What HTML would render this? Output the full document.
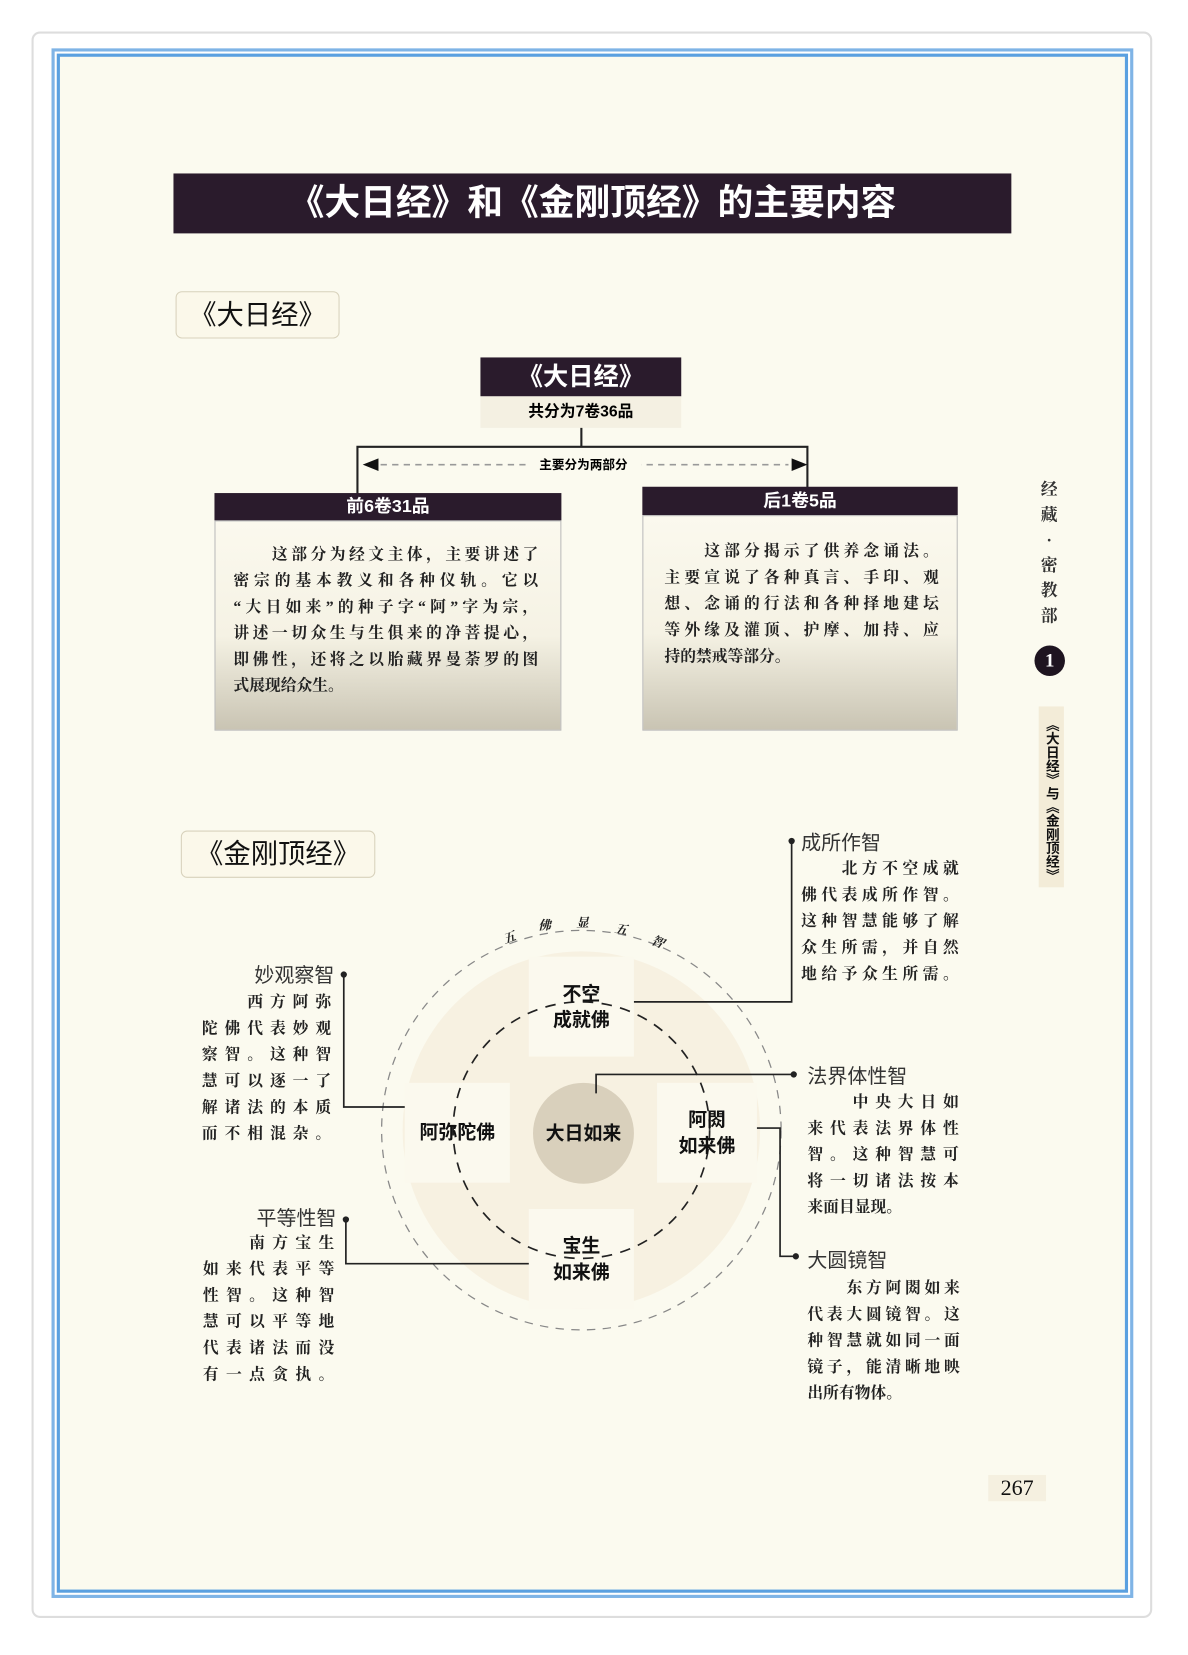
<!DOCTYPE html>
<html><head><meta charset="utf-8"><style>
html,body{margin:0;padding:0;background:#fff;}
body{width:1188px;height:1655px;overflow:hidden;position:relative;font-family:"Liberation Sans","Noto Sans CJK SC",sans-serif;}
#w{position:absolute;left:0;top:0;width:1130px;height:1574px;transform:scale(1.0513);transform-origin:0 0;}
.a{position:absolute;}
.card{left:30px;top:30px;width:1066px;height:1509px;border:2px solid #ddd;border-radius:8px;background:#fff;box-sizing:border-box;}
.blue{left:49px;top:46px;width:1029px;height:1474px;border:3px solid #7fb4e6;box-sizing:border-box;}
.blue2{left:54px;top:51px;width:1019px;height:1464px;border:3px solid #5aa0e0;box-sizing:border-box;background:#fbfaef;}
.dark{background:#2a1b2c;color:#fff;font-weight:bold;text-align:center;}
.p{font-family:"Liberation Serif","Noto Serif CJK SC",serif;color:#222;font-weight:bold;}
.ln{text-align:justify;text-align-last:justify;white-space:nowrap;}
.node{background:#fefdf8;text-align:center;font-weight:bold;font-size:18px;color:#111;line-height:25px;display:flex;align-items:center;justify-content:center;}
.lbl{font-size:19px;color:#333;}
</style></head><body><div id="w">
<div class="a card"></div>
<div class="a blue"></div>
<div class="a blue2"></div>

<div class="a dark" style="left:165px;top:165px;width:797px;height:57px;line-height:57px;font-size:34px;">《大日经》和《金刚顶经》的主要内容</div>

<div class="a" style="left:167px;top:277px;width:154px;height:43px;border:1px solid #d8d2bc;border-radius:6px;background:#fbf8ea;font-size:26px;line-height:43px;text-align:center;color:#111;">《大日经》</div>

<div class="a dark" style="left:457px;top:340px;width:191px;height:37px;line-height:37px;font-size:24px;">《大日经》</div>
<div class="a" style="left:457px;top:377px;width:191px;height:30px;line-height:30px;font-size:15px;font-weight:bold;text-align:center;background:#f4f0e2;">共分为7卷36品</div>

<svg class="a" style="left:0;top:0" width="1130" height="1574">
<g stroke="#222" stroke-width="2" fill="none">
<path d="M553 407V425M340 470V425H768V465"/>
</g>
<path d="M362 442H750" stroke="#999" stroke-width="1.5" stroke-dasharray="6 5"/>
<polygon points="345,442 360,436 360,448" fill="#111"/>
<polygon points="768,442 753,436 753,448" fill="#111"/>
<g fill="#f5ecdc" opacity="0.7">
<circle cx="553" cy="1075" r="170"/>
</g>
<g fill="#fbf9ee">
<rect x="503" y="910" width="100" height="95"/>
<rect x="385" y="1030" width="100" height="95"/>
<rect x="625" y="1030" width="95" height="95"/>
<rect x="503" y="1150" width="100" height="95"/>
</g>
<circle cx="553" cy="1075" r="190" fill="none" stroke="#888" stroke-width="1.2" stroke-dasharray="8 7"/>
<circle cx="553" cy="1075" r="122" fill="none" stroke="#222" stroke-width="1.6" stroke-dasharray="10 8"/>
<circle cx="555" cy="1078" r="48" fill="#d9d0bc"/>
<g stroke="#222" stroke-width="1.6" fill="none">
<path d="M603 953H753V800"/>
<path d="M567 1040V1022H755"/>
<path d="M720 1073H742V1195H755"/>
<path d="M385 1053H327V927"/>
<path d="M503 1202H329V1160"/>
</g>
<g fill="#222"><circle cx="753" cy="800" r="3"/><circle cx="755" cy="1022" r="3"/><circle cx="757" cy="1195" r="3"/><circle cx="327" cy="927" r="3"/><circle cx="329" cy="1160" r="3"/></g>
<g font-family="Liberation Serif,Noto Serif CJK SC,serif" font-size="12" font-weight="bold" fill="#222" font-style="italic">
<text x="478" y="896" transform="rotate(-20 484 891)">五</text>
<text x="512" y="884">佛</text>
<text x="548" y="882">显</text>
<text x="585" y="888" transform="rotate(10 591 883)">五</text>
<text x="620" y="900" transform="rotate(22 626 895)">智</text>
</g>
</svg>

<div class="a" style="left:500px;top:433px;width:110px;text-align:center;font-size:12px;font-weight:bold;background:#fbfaef;">主要分为两部分</div>

<div class="a dark" style="left:204px;top:469px;width:330px;height:26px;line-height:26px;font-size:17px;">前6卷31品</div>
<div class="a" style="left:204px;top:495px;width:330px;height:200px;background:linear-gradient(#fbf9ee 0%,#f5f2e4 55%,#c9c4b3 100%);border:1px solid #bbb;box-sizing:border-box;"></div>
<div class="a p" style="left:222px;top:516px;width:290px;font-size:15px;line-height:25px;">
<div class="ln">　　这部分为经文主体，主要讲述了</div>
<div class="ln">密宗的基本教义和各种仪轨。它以</div>
<div class="ln">“大日如来”的种子字“阿”字为宗，</div>
<div class="ln">讲述一切众生与生俱来的净菩提心，</div>
<div class="ln">即佛性，还将之以胎藏界曼荼罗的图</div>
<div>式展现给众生。</div>
</div>

<div class="a dark" style="left:611px;top:463px;width:300px;height:27px;line-height:27px;font-size:17px;">后1卷5品</div>
<div class="a" style="left:611px;top:490px;width:300px;height:205px;background:linear-gradient(#fbf9ee 0%,#f5f2e4 55%,#c9c4b3 100%);border:1px solid #bbb;box-sizing:border-box;"></div>
<div class="a p" style="left:632px;top:513px;width:261px;font-size:15px;line-height:25px;">
<div class="ln">　　这部分揭示了供养念诵法。</div>
<div class="ln">主要宣说了各种真言、手印、观</div>
<div class="ln">想、念诵的行法和各种择地建坛</div>
<div class="ln">等外缘及灌顶、护摩、加持、应</div>
<div>持的禁戒等部分。</div>
</div>

<div class="a p" style="left:987px;top:455px;width:22px;font-size:16px;line-height:24px;text-align:center;color:#333;">经<br>藏<br>·<br>密<br>教<br>部</div>
<div class="a" style="left:984px;top:614px;width:29px;height:29px;border-radius:50%;background:#1e1420;color:#fff;text-align:center;line-height:29px;font-family:'Liberation Serif',serif;font-weight:bold;font-size:18px;">1</div>
<div class="a" style="left:988px;top:672px;width:24px;height:172px;background:#f3ecd8;"></div>
<div class="a" style="left:988px;top:678px;width:24px;height:166px;writing-mode:vertical-rl;font-size:13px;font-weight:bold;line-height:24px;text-align:center;color:#111;white-space:nowrap;">《大日经》与《金刚顶经》</div>

<div class="a" style="left:172px;top:790px;width:183px;height:43px;border:1px solid #d8d2bc;border-radius:6px;background:#fbf8ea;font-size:26px;line-height:43px;text-align:center;color:#111;">《金刚顶经》</div>

<div class="a node" style="left:503px;top:910px;width:100px;height:95px;background:none;">不空<br>成就佛</div>
<div class="a node" style="left:385px;top:1030px;width:100px;height:95px;background:none;">阿弥陀佛</div>
<div class="a node" style="left:625px;top:1030px;width:95px;height:95px;background:none;">阿閦<br>如来佛</div>
<div class="a node" style="left:503px;top:1150px;width:100px;height:95px;background:none;">宝生<br>如来佛</div>
<div class="a node" style="left:507px;top:1030px;width:96px;height:96px;background:none;">大日如来</div>

<div class="a lbl" style="left:762px;top:787px;">成所作智</div>
<div class="a p" style="left:762px;top:815px;width:150px;font-size:15px;line-height:25px;">
<div class="ln">　　北方不空成就</div><div class="ln">佛代表成所作智。</div><div class="ln">这种智慧能够了解</div><div class="ln">众生所需，并自然</div><div class="ln">地给予众生所需。</div>
</div>

<div class="a lbl" style="left:768px;top:1009px;">法界体性智</div>
<div class="a p" style="left:768px;top:1037px;width:144px;font-size:15px;line-height:25px;">
<div class="ln">　　中央大日如</div><div class="ln">来代表法界体性</div><div class="ln">智。这种智慧可</div><div class="ln">将一切诸法按本</div><div>来面目显现。</div>
</div>

<div class="a lbl" style="left:768px;top:1184px;">大圆镜智</div>
<div class="a p" style="left:768px;top:1214px;width:145px;font-size:15px;line-height:25px;">
<div class="ln">　　东方阿閦如来</div><div class="ln">代表大圆镜智。这</div><div class="ln">种智慧就如同一面</div><div class="ln">镜子，能清晰地映</div><div>出所有物体。</div>
</div>

<div class="a lbl" style="left:230px;top:913px;width:88px;text-align:right;">妙观察智</div>
<div class="a p" style="left:192px;top:942px;width:123px;font-size:15px;line-height:25px;">
<div class="ln">　　西方阿弥</div><div class="ln">陀佛代表妙观</div><div class="ln">察智。这种智</div><div class="ln">慧可以逐一了</div><div class="ln">解诸法的本质</div><div class="ln">而不相混杂。</div>
</div>

<div class="a lbl" style="left:230px;top:1144px;width:90px;text-align:right;">平等性智</div>
<div class="a p" style="left:193px;top:1171px;width:125px;font-size:15px;line-height:25px;">
<div class="ln">　　南方宝生</div><div class="ln">如来代表平等</div><div class="ln">性智。这种智</div><div class="ln">慧可以平等地</div><div class="ln">代表诸法而没</div><div class="ln">有一点贪执。</div>
</div>

<div class="a" style="left:940px;top:1403px;width:55px;font-family:'Liberation Serif',serif;font-size:21px;text-align:center;background:#f5f0e0;color:#111;">267</div>
</div></body></html>
